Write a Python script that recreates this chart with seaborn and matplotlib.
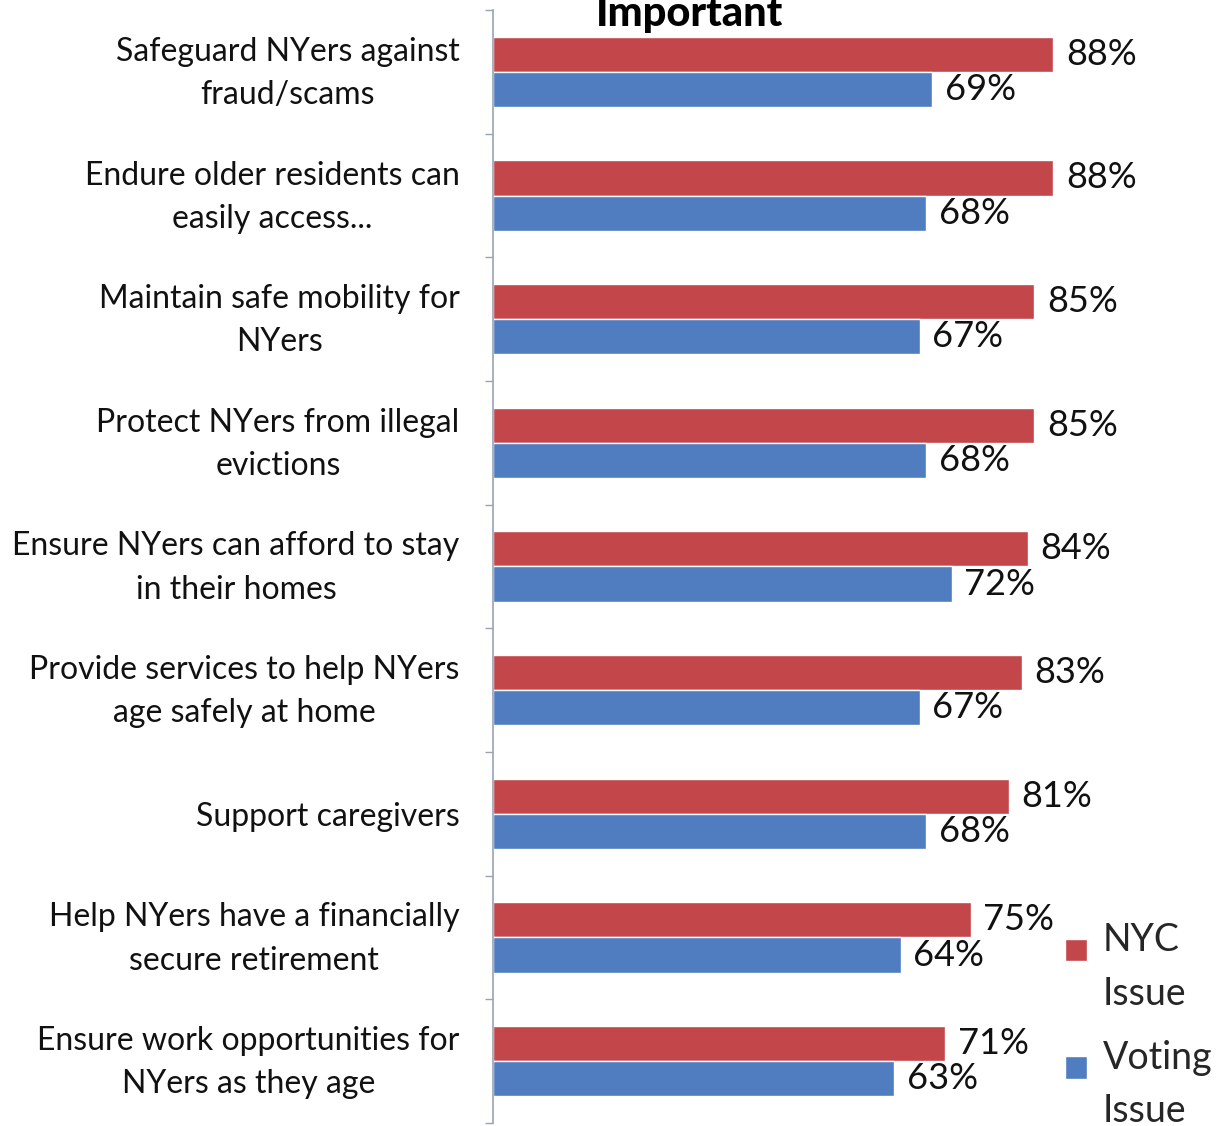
import pandas as pd
import numpy as np
import matplotlib
matplotlib.use("Agg")
import matplotlib.pyplot as plt
import matplotlib.patches as mpatches
import matplotlib.transforms as mtrans
from matplotlib.legend_handler import HandlerPatch
import seaborn as sb

# data
issues = [
    "Safeguard NYers against\nfraud/scams",
    "Endure older residents can\neasily access...",
    "Maintain safe mobility for\nNYers",
    "Protect NYers from illegal\nevictions",
    "Ensure NYers can afford to stay\nin their homes",
    "Provide services to help NYers\nage safely at home",
    "Support caregivers",
    "Help NYers have a financially\nsecure retirement",
    "Ensure work opportunities for\nNYers as they age",
]
nyc_issue = [88, 88, 85, 85, 84, 83, 81, 75, 71]
voting_issue = [69, 68, 67, 68, 72, 67, 68, 64, 63]
series = ["NYC\nIssue", "Voting\nIssue"]

df = pd.DataFrame({
    "issue": issues * 2,
    "pct": nyc_issue + voting_issue,
    "series": [series[0]] * len(issues) + [series[1]] * len(issues),
})

sb.set_theme(style="white")
plt.rcParams["font.family"] = ["Lato", "DejaVu Sans"]

fig = plt.figure(figsize=(12.19, 11.26), dpi=100)
ax = fig.add_axes([0.4044, 0.0027, 0.5956, 0.9884])

colors = ["#C3464B", "#4F7DC0"]
sb.barplot(data=df, y="issue", x="pct", hue="series", order=issues,
           hue_order=series, palette=colors, width=0.57, ax=ax,
           saturation=1, legend=True)

for cont in ax.containers:
    ax.bar_label(cont, labels=[f"{int(v)}%" for v in cont.datavalues],
                 padding=9, fontsize=26, color="#111111")

ax.set_xlim(0, 114)
ax.set_ylim(len(issues) - 0.5, -0.5)
ax.set_xlabel("")
ax.set_ylabel("")
ax.set_xticks([])
ax.tick_params(axis="y", length=0, pad=24, labelsize=23, labelcolor="#111111")
# two-line labels sit a little above the bar centre in the original
lift = mtrans.ScaledTranslation(0, 8 / 100, fig.dpi_scale_trans)
for t in ax.get_yticklabels():
    t.set_multialignment("center")
    t.set_linespacing(1.55)
    if "\n" in t.get_text():
        t.set_transform(t.get_transform() + lift)
ax.set_yticks(np.arange(-0.5, len(issues) + 0.5, 1), minor=True)
ax.tick_params(axis="y", which="minor", length=6, color="#9aa3b5", left=True)

for s in ["top", "right", "bottom"]:
    ax.spines[s].set_visible(False)
ax.spines["left"].set_color("#9aa3b5")
ax.spines["left"].set_linewidth(1.2)


def top_square(legend, orig_handle, xdescent, ydescent, width, height, fontsize):
    s = 0.6 * fontsize
    return mpatches.Rectangle((-xdescent, -ydescent + height - s * 1.22), s, s)


leg = ax.legend(loc="lower right", bbox_to_anchor=(1.012, -0.019), frameon=False,
                fontsize=27, handlelength=0.62, handleheight=2.6,
                handletextpad=0.4, labelspacing=0.75, borderaxespad=0.0,
                handler_map={mpatches.Rectangle: HandlerPatch(patch_func=top_square)})
for t in leg.get_texts():
    t.set_linespacing(1.6)

fig.text(0.566, 0.988, "Important", ha="center", va="center",
         fontsize=30, fontweight="black", color="black")

plt.savefig("out.png", dpi=100)
